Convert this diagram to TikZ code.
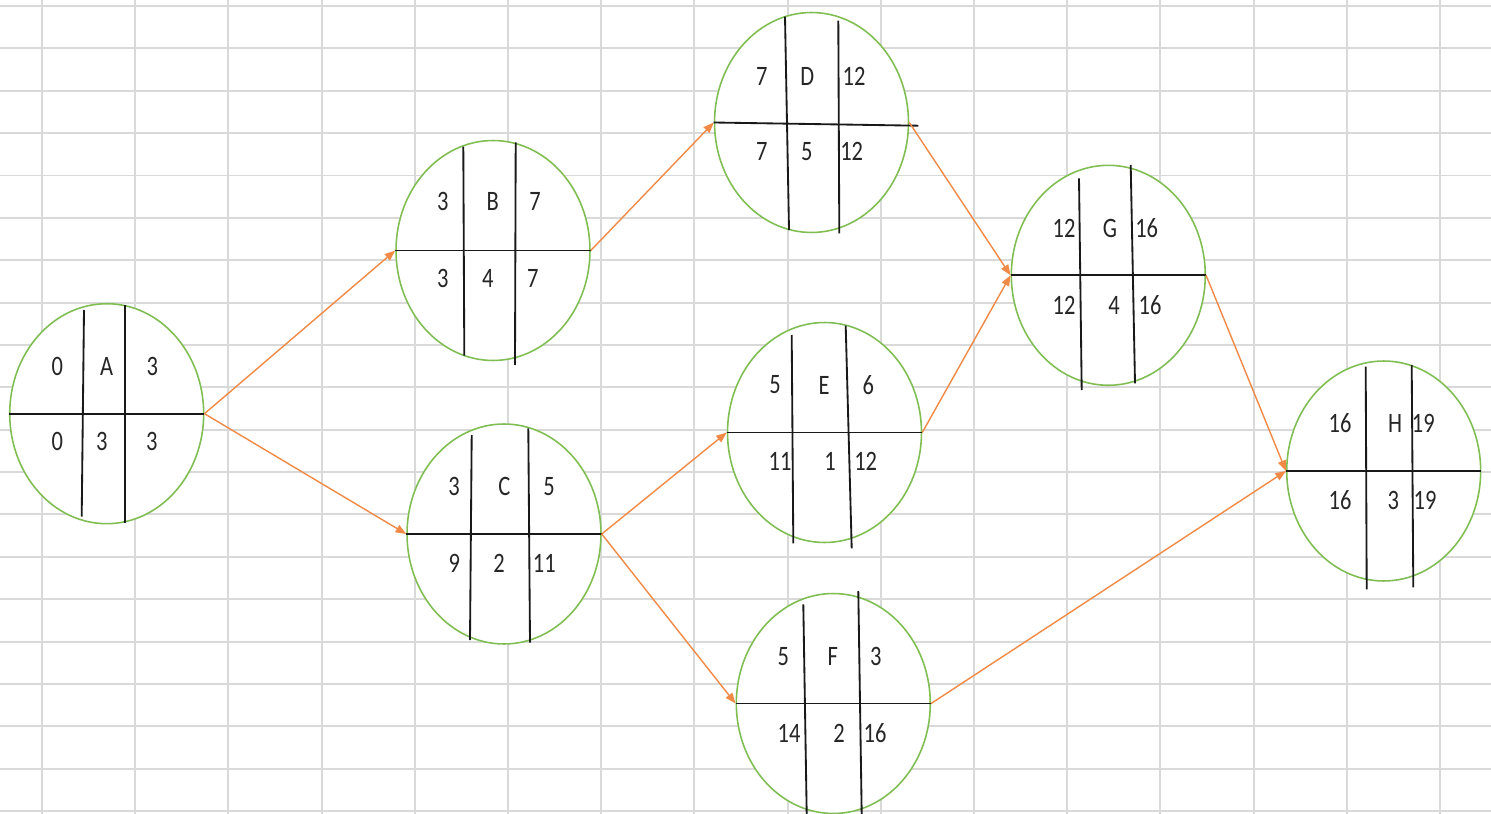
\documentclass[tikz,border=0pt]{standalone}
\usepackage{fontspec}
\setmainfont[FakeStretch=0.8]{Carlito}
\usetikzlibrary{arrows.meta,shapes.geometric}
\definecolor{GridGray}{RGB}{217,217,217}
\definecolor{ActGreen}{RGB}{128,190,84}
\definecolor{ArrOrange}{RGB}{240,138,70}
\begin{document}
\begin{tikzpicture}[x=0.02cm,y=-0.02cm,>={Triangle[length=6pt,width=4.6pt]},every node/.style={font=\fontsize{16}{19}\selectfont}]
\tikzset{act/.style={ellipse,draw=ActGreen,fill=white,line width=0.9pt,minimum width=3.88cm,minimum height=4.4cm,inner sep=0pt},cut/.style={black!90,line width=1.05pt},lbl/.style={inner sep=0pt,text=black!85},link/.style={->,draw=ArrOrange,line width=0.8pt},gridline/.style={GridGray,line width=1.1pt}}
\useasboundingbox[fill=white] (0,0) rectangle (1491,814);
% sheet grid
\foreach \i in {0,...,19} \draw[gridline] (0,6+42.37*\i) -- (1491,6+42.37*\i);
\foreach \i in {0,...,15} \draw[gridline] (42+93.2*\i,0) -- (42+93.2*\i,814);
% activity A
\node[act] (A) at (106.7,413.7) {};
\draw[cut] (A.west) -- (A.east);
\draw[cut] (84,310) -- (81.7,516.7);
\draw[cut] (125,305) -- (125,523.3);
\foreach \t/\x/\y [count=\i] in {0/57.3/366.7,A/106.7/366.7,3/152.3/366.7,0/57.3/441.7,3/101.7/441.7,3/151.7/441.7}
  \node[lbl] (A\i) at (\x,\y) {\t};
% activity B
\node[act] (B) at (493,250.5) {};
\draw[cut] (B.west) -- (B.east);
\draw[cut] (463.3,146.7) -- (464.3,355.7);
\draw[cut] (515.7,142.3) -- (515,365);
\foreach \t/\x/\y [count=\i] in {3/442.7/201.7,B/492.7/201.7,7/535/201.7,3/442.7/278,4/487.7/278,7/532.7/278}
  \node[lbl] (B\i) at (\x,\y) {\t};
% activity C
\node[act] (C) at (504,534) {};
\draw[cut] (C.west) -- (C.east);
\draw[cut] (471.7,435) -- (470,640);
\draw[cut] (528.3,428.3) -- (530,642.7);
\foreach \t/\x/\y [count=\i] in {3/454/486.7,C/504.3/486.7,5/549/486.7,9/454.3/563,2/499/563,11/544.3/563}
  \node[lbl] (C\i) at (\x,\y) {\t};
% activity D
\node[act] (D) at (811.5,122.5) {};
\draw[cut] (D.west) -- (918.3,125.7);
\draw[cut] (785,16.7) -- (789,230);
\draw[cut] (838.3,20.7) -- (839.3,233.3);
\foreach \t/\x/\y [count=\i] in {7/761.7/76,D/807.3/76,12/854/76,7/761.7/151.7,5/806.7/151.7,12/851.7/151.7}
  \node[lbl] (D\i) at (\x,\y) {\t};
% activity E
\node[act] (E) at (824.5,432.5) {};
\draw[cut] (E.west) -- (E.east);
\draw[cut] (791.7,335) -- (793.3,543.3);
\draw[cut] (845.7,325.7) -- (851.7,548.3);
\foreach \t/\x/\y [count=\i] in {5/775/385,E/824/385,6/868.3/385,11/780/461.7,1/830/461.7,12/865.7/461.7}
  \node[lbl] (E\i) at (\x,\y) {\t};
% activity F
\node[act] (F) at (833.3,703.5) {};
\draw[cut] (F.west) -- (F.east);
\draw[cut] (803.3,604.3) -- (806.7,814);
\draw[cut] (858.3,591) -- (861.7,814);
\foreach \t/\x/\y [count=\i] in {5/783.3/656.7,F/832.7/656.7,3/875.7/656.7,14/789/733.3,2/839/733.3,16/875/733.3}
  \node[lbl] (F\i) at (\x,\y) {\t};
% activity G
\node[act] (G) at (1108.3,275.3) {};
\draw[cut] (G.west) -- (G.east);
\draw[cut] (1079,178.3) -- (1081.7,390);
\draw[cut] (1130.7,165) -- (1135,383.3);
\foreach \t/\x/\y [count=\i] in {12/1064/228.3,G/1110/228.3,16/1146.7/228.3,12/1064/305,4/1114/305,16/1150/305}
  \node[lbl] (G\i) at (\x,\y) {\t};
% activity H
\node[act] (H) at (1383.7,471) {};
\draw[cut] (H.west) -- (H.east);
\draw[cut] (1365.7,366.7) -- (1366.7,589.3);
\draw[cut] (1411.7,365) -- (1413.3,587.3);
\foreach \t/\x/\y [count=\i] in {16/1340/423.3,H/1395/423.3,19/1423.3/423.3,16/1340/500,3/1393.3/500,19/1425/500}
  \node[lbl] (H\i) at (\x,\y) {\t};
% precedence links
\draw[link] (A.east) -- (B.west);
\draw[link] (A.east) -- (C.west);
\draw[link] (B.east) -- (D.west);
\draw[link] (C.east) -- (E.west);
\draw[link] (C.east) -- (F.west);
\draw[link] (D.east) -- (G.west);
\draw[link] (E.east) -- (G.west);
\draw[link] (G.east) -- (H.west);
\draw[link] (F.east) -- (H.west);
\end{tikzpicture}
\end{document}
